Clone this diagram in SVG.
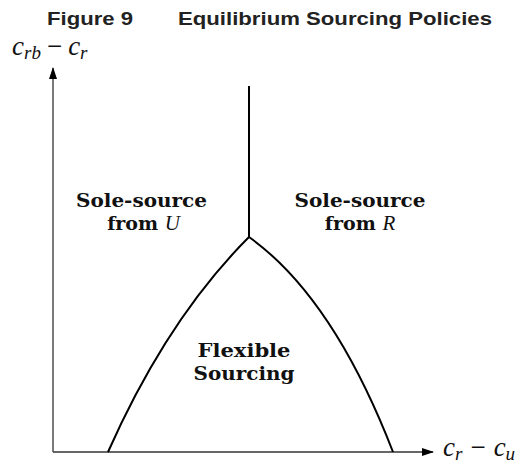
<svg xmlns="http://www.w3.org/2000/svg" width="523" height="465" viewBox="0 0 523 465">
<style>
.title{font-family:"Liberation Sans",Arial,sans-serif;font-weight:bold;font-size:19px;fill:#222}
.lbl{font-family:"DejaVu Serif","Liberation Serif",serif;font-weight:bold;font-size:19px;fill:#111;text-anchor:middle}
.math{font-family:"Liberation Serif","Times New Roman",serif;font-style:italic;font-size:27px;fill:#111}
.mop{font-family:"Liberation Serif","Times New Roman",serif;font-style:normal}
.mi{font-family:"Liberation Serif","Times New Roman",serif;font-style:italic;font-weight:normal;font-size:21px}
.axis{stroke:#333;stroke-width:1.3;fill:none}
.curve{stroke:#000;stroke-width:2;fill:none}
</style>
<defs>
<marker id="arr" markerWidth="12" markerHeight="8" refX="11" refY="4" orient="auto" markerUnits="userSpaceOnUse">
<path d="M0,0 L12,4 L0,8 Z" fill="#000"/>
</marker>
</defs>
<rect width="523" height="465" fill="#fff"/>
<g id="title">
<text class="title" x="47" y="25" textLength="86" lengthAdjust="spacingAndGlyphs">Figure 9</text>
<text class="title" x="178" y="25" textLength="314" lengthAdjust="spacingAndGlyphs">Equilibrium Sourcing Policies</text>
</g>
<g id="connectors">
<line class="axis" x1="53" y1="452" x2="53" y2="68" marker-end="url(#arr)"/>
<line class="axis" x1="53" y1="452" x2="433" y2="452" marker-end="url(#arr)"/>
<line class="curve" x1="249" y1="86" x2="249" y2="237"/>
<path class="curve" d="M249,237 Q167,319 108,452"/>
<path class="curve" d="M249,237 Q333,297 393,452"/>
</g>
<g id="y-label">
<text class="math" x="12" y="55">c<tspan font-size="19" dy="4">rb</tspan><tspan class="mop" dy="-4" dx="6">−</tspan><tspan dx="6">c</tspan><tspan font-size="19" dy="4">r</tspan></text>
</g>
<g id="x-label">
<text class="math" x="443" y="456">c<tspan font-size="19" dy="4">r</tspan><tspan class="mop" dy="-4" dx="8">−</tspan><tspan dx="8">c</tspan><tspan font-size="19" dy="4">u</tspan></text>
</g>
<g id="sole-u">
<text class="lbl" x="141.5" y="207" textLength="131" lengthAdjust="spacingAndGlyphs">Sole-source</text>
<text class="lbl" x="143.5" y="230">from <tspan class="mi">U</tspan></text>
</g>
<g id="sole-r">
<text class="lbl" x="360" y="207" textLength="131" lengthAdjust="spacingAndGlyphs">Sole-source</text>
<text class="lbl" x="360" y="230">from <tspan class="mi">R</tspan></text>
</g>
<g id="flexible">
<text class="lbl" x="244" y="357" textLength="93" lengthAdjust="spacingAndGlyphs">Flexible</text>
<text class="lbl" x="244" y="380" textLength="101" lengthAdjust="spacingAndGlyphs">Sourcing</text>
</g>
</svg>
